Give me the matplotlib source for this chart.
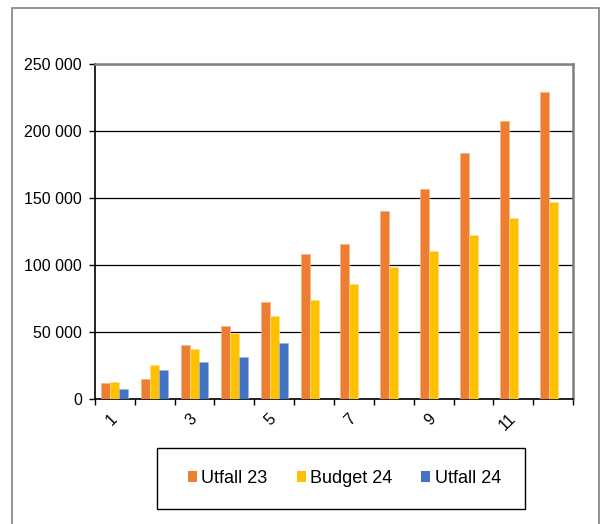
import matplotlib
matplotlib.use("Agg")
import matplotlib.pyplot as plt
import matplotlib.transforms as mtransforms
import numpy as np
from matplotlib.patches import Rectangle

plt.rcParams['font.family'] = ['Liberation Sans', 'DejaVu Sans']

categories = list(range(1, 13))
tick_labels = ["1", "", "3", "", "5", "", "7", "", "9", "", "11", ""]
utfall23 = [11400, 14400, 40000, 54500, 72400, 108200, 115400, 140000, 156700, 183300, 207200, 228800]
budget24 = [12700, 24800, 37100, 49200, 61400, 73900, 86000, 98200, 110400, 122600, 135000, 147000]
utfall24 = [7500, 21100, 27600, 31300, 41500, np.nan, np.nan, np.nan, np.nan, np.nan, np.nan, np.nan]
series_names = ["Utfall 23", "Budget 24", "Utfall 24"]
colors = ["#ED7D31", "#FFC000", "#4472C4"]
edge_colors = ["#F5B38A", "#FFE08A", "#9DB5E0"]
yticks = [0, 50000, 100000, 150000, 200000, 250000]

W, H = 603, 524
fig = plt.figure(figsize=(W / 100, H / 100), dpi=100)
fig.patch.set_facecolor("white")

# outer chart border
fig.add_artist(Rectangle((12 / W, -0.02), (598.5 - 12) / W, (524 - 8) / H + 0.02,
                         transform=fig.transFigure, fill=False,
                         edgecolor="#808080", linewidth=1.2))

ax = fig.add_axes([95 / W, (H - 398.7) / H, (573 - 95) / W, (398.7 - 64) / H])

x = np.arange(len(categories))
bw = 0.226
for k, (vals, name) in enumerate(zip([utfall23, budget24, utfall24], series_names)):
    ax.bar(x + (k - 1) * bw, vals, width=bw, color=colors[k],
           edgecolor=edge_colors[k], linewidth=0.5, label=name, zorder=3)

ax.set_xlim(-0.5, len(categories) - 0.5)
ax.set_ylim(0, 250000)

ax.set_yticks(yticks)
ax.set_yticklabels([f"{v:,}".replace(",", " ") for v in yticks], fontsize=11.5)
ax.tick_params(axis="y", direction="out", length=4, width=1, pad=5.5, colors="black")

ax.set_xticks(x)
ax.set_xticklabels(tick_labels, fontsize=11.5, rotation=45, ha="right")
ax.tick_params(axis="x", which="major", length=0, pad=9)
shift = mtransforms.ScaledTranslation(5 / 100, 0, fig.dpi_scale_trans)
for lbl in ax.get_xticklabels():
    lbl.set_transform(lbl.get_transform() + shift)
ax.set_xticks(np.arange(-0.5, len(categories) + 0.5, 1), minor=True)
ax.tick_params(axis="x", which="minor", direction="out", length=4, width=1, colors="black")

ax.grid(axis="y", color="black", linewidth=0.9, zorder=1)
ax.set_axisbelow(True)

for s in ["left", "bottom"]:
    ax.spines[s].set_color("black")
    ax.spines[s].set_linewidth(1.2)
for s in ["top", "right"]:
    ax.spines[s].set_color("#808080")
    ax.spines[s].set_linewidth(1.8)

# legend box
fig.add_artist(Rectangle((156.7 / W, (H - 509) / H), (525 - 156.7) / W, (509 - 448) / H,
                         transform=fig.transFigure, fill=False,
                         edgecolor="black", linewidth=1.0))
leg = fig.legend(loc="center", bbox_to_anchor=(344.4 / W, (H - 478.5) / H),
                 ncol=3, fontsize=13, frameon=False,
                 handlelength=0.5, handleheight=0.5,
                 handletextpad=0.25, columnspacing=1.6, borderpad=0.0)
for h in leg.legend_handles:
    h.set_edgecolor("none")

fig.savefig("out.png", dpi=100, facecolor="white")
